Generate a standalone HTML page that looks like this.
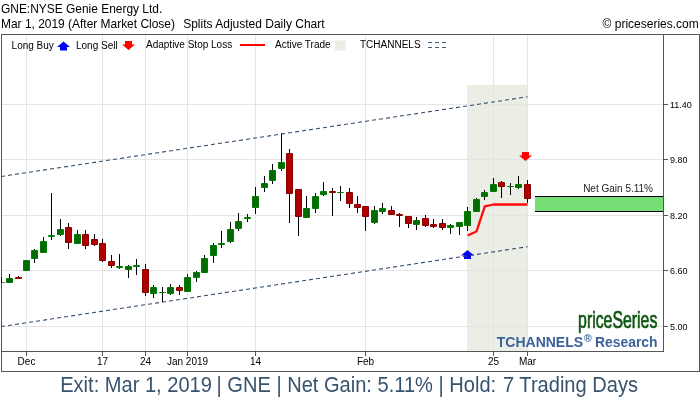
<!DOCTYPE html>
<html><head><meta charset="utf-8"><title>GNE:NYSE Genie Energy Ltd.</title>
<style>
html,body{margin:0;padding:0;background:#fff;}
body{width:700px;height:400px;overflow:hidden;position:relative;font-family:"Liberation Sans",Arial,sans-serif;}
svg{position:absolute;left:0;top:0;display:block;}
text{font-family:"Liberation Sans",Arial,sans-serif;}
</style></head><body>
<svg width="700" height="400" viewBox="0 0 700 400">
<rect x="0" y="0" width="700" height="400" fill="#ffffff"/>

<rect x="467" y="85" width="61" height="266" fill="#ebeee5" shape-rendering="crispEdges"/>
<g shape-rendering="crispEdges" fill="#e5e5e5">
<rect x="26" y="35" width="1" height="316"/>
<rect x="102" y="35" width="1" height="316"/>
<rect x="145" y="35" width="1" height="316"/>
<rect x="187" y="35" width="1" height="316"/>
<rect x="255" y="35" width="1" height="316"/>
<rect x="365" y="35" width="1" height="316"/>
<rect x="493" y="35" width="1" height="316"/>
<rect x="527" y="35" width="1" height="316"/>
<rect x="2" y="104" width="661" height="1"/>
<rect x="2" y="159" width="661" height="1"/>
<rect x="2" y="215" width="661" height="1"/>
<rect x="2" y="270" width="661" height="1"/>
<rect x="2" y="326" width="661" height="1"/>
</g>
<g shape-rendering="crispEdges" fill="#555555">
<rect x="1" y="34" width="699" height="1"/>
<rect x="1" y="34" width="1" height="338"/>
<rect x="699" y="34" width="1" height="338"/>
<rect x="1" y="371" width="699" height="1"/>
<rect x="1" y="351" width="663" height="1"/>
<rect x="663" y="34" width="1" height="318"/>
<rect x="26" y="351" width="1" height="5"/>
<rect x="102" y="351" width="1" height="5"/>
<rect x="145" y="351" width="1" height="5"/>
<rect x="187" y="351" width="1" height="5"/>
<rect x="255" y="351" width="1" height="5"/>
<rect x="365" y="351" width="1" height="5"/>
<rect x="493" y="351" width="1" height="5"/>
<rect x="527" y="351" width="1" height="5"/>
<rect x="663" y="104" width="5" height="1"/>
<rect x="663" y="159" width="5" height="1"/>
<rect x="663" y="215" width="5" height="1"/>
<rect x="663" y="270" width="5" height="1"/>
<rect x="663" y="326" width="5" height="1"/>
</g>
<g shape-rendering="crispEdges" fill="#000">
<rect x="9" y="274" width="1" height="9"/>
<rect x="18" y="276" width="1" height="3"/>
<rect x="26" y="260" width="1" height="11"/>
<rect x="34" y="249" width="1" height="14"/>
<rect x="43" y="237" width="1" height="16"/>
<rect x="51" y="193" width="1" height="47"/>
<rect x="60" y="219" width="1" height="17"/>
<rect x="68" y="223" width="1" height="26"/>
<rect x="77" y="230" width="1" height="14"/>
<rect x="85" y="230" width="1" height="19"/>
<rect x="94" y="234" width="1" height="12"/>
<rect x="102" y="239" width="1" height="23"/>
<rect x="111" y="255" width="1" height="13"/>
<rect x="119" y="254" width="1" height="15"/>
<rect x="128" y="265" width="1" height="13"/>
<rect x="136" y="259" width="1" height="16"/>
<rect x="145" y="264" width="1" height="32"/>
<rect x="153" y="285" width="1" height="13"/>
<rect x="162" y="287" width="1" height="15"/>
<rect x="170" y="284" width="1" height="11"/>
<rect x="179" y="285" width="1" height="10"/>
<rect x="187" y="274" width="1" height="18"/>
<rect x="196" y="271" width="1" height="11"/>
<rect x="204" y="255" width="1" height="18"/>
<rect x="213" y="243" width="1" height="20"/>
<rect x="221" y="231" width="1" height="17"/>
<rect x="230" y="222" width="1" height="21"/>
<rect x="238" y="213" width="1" height="18"/>
<rect x="247" y="214" width="1" height="8"/>
<rect x="255" y="187" width="1" height="27"/>
<rect x="264" y="176" width="1" height="16"/>
<rect x="272" y="164" width="1" height="20"/>
<rect x="281" y="133" width="1" height="38"/>
<rect x="289" y="149" width="1" height="74"/>
<rect x="298" y="189" width="1" height="47"/>
<rect x="306" y="196" width="1" height="22"/>
<rect x="315" y="193" width="1" height="20"/>
<rect x="323" y="182" width="1" height="14"/>
<rect x="332" y="188" width="1" height="28"/>
<rect x="340" y="186" width="1" height="15"/>
<rect x="349" y="188" width="1" height="20"/>
<rect x="357" y="196" width="1" height="17"/>
<rect x="365" y="206" width="1" height="25"/>
<rect x="374" y="206" width="1" height="18"/>
<rect x="382" y="203" width="1" height="11"/>
<rect x="391" y="206" width="1" height="9"/>
<rect x="399" y="213" width="1" height="14"/>
<rect x="408" y="216" width="1" height="12"/>
<rect x="416" y="217" width="1" height="13"/>
<rect x="425" y="215" width="1" height="12"/>
<rect x="433" y="219" width="1" height="9"/>
<rect x="442" y="219" width="1" height="11"/>
<rect x="450" y="224" width="1" height="10"/>
<rect x="459" y="222" width="1" height="13"/>
<rect x="467" y="207" width="1" height="24"/>
<rect x="476" y="198" width="1" height="14"/>
<rect x="484" y="190" width="1" height="10"/>
<rect x="493" y="178" width="1" height="14"/>
<rect x="501" y="181" width="1" height="17"/>
<rect x="510" y="183" width="1" height="12"/>
<rect x="518" y="176" width="1" height="13"/>
<rect x="527" y="180" width="1" height="23"/>
</g>
<g>
<rect x="6" y="278" width="7" height="5" rx="0.9" fill="#007c00"/>
<rect x="7" y="279" width="5" height="3" fill="#006b00"/>
<rect x="15" y="277" width="7" height="2" rx="0.9" fill="#8a0000"/>
<rect x="23" y="260" width="7" height="11" rx="0.9" fill="#007c00"/>
<rect x="24" y="261" width="5" height="9" fill="#006b00"/>
<rect x="31" y="250" width="7" height="9" rx="0.9" fill="#007c00"/>
<rect x="32" y="251" width="5" height="7" fill="#006b00"/>
<rect x="40" y="241" width="7" height="12" rx="0.9" fill="#007c00"/>
<rect x="41" y="242" width="5" height="10" fill="#006b00"/>
<rect x="48" y="235" width="7" height="2" rx="0.9" fill="#007c00"/>
<rect x="57" y="229" width="7" height="6" rx="0.9" fill="#007c00"/>
<rect x="58" y="230" width="5" height="4" fill="#006b00"/>
<rect x="65" y="227" width="7" height="16" rx="0.9" fill="#8a0000"/>
<rect x="66" y="228" width="5" height="14" fill="#ae0000"/>
<rect x="74" y="234" width="7" height="10" rx="0.9" fill="#007c00"/>
<rect x="75" y="235" width="5" height="8" fill="#006b00"/>
<rect x="82" y="234" width="7" height="12" rx="0.9" fill="#8a0000"/>
<rect x="83" y="235" width="5" height="10" fill="#ae0000"/>
<rect x="91" y="239" width="7" height="6" rx="0.9" fill="#8a0000"/>
<rect x="92" y="240" width="5" height="4" fill="#ae0000"/>
<rect x="99" y="243" width="7" height="18" rx="0.9" fill="#8a0000"/>
<rect x="100" y="244" width="5" height="16" fill="#ae0000"/>
<rect x="108" y="261" width="7" height="5" rx="0.9" fill="#8a0000"/>
<rect x="109" y="262" width="5" height="3" fill="#ae0000"/>
<rect x="116" y="266" width="7" height="2" rx="0.9" fill="#007c00"/>
<rect x="125" y="266" width="7" height="4" rx="0.9" fill="#007c00"/>
<rect x="126" y="267" width="5" height="2" fill="#006b00"/>
<rect x="133" y="265" width="7" height="2" rx="0.9" fill="#007c00"/>
<rect x="142" y="269" width="7" height="24" rx="0.9" fill="#8a0000"/>
<rect x="143" y="270" width="5" height="22" fill="#ae0000"/>
<rect x="150" y="287" width="7" height="7" rx="0.9" fill="#007c00"/>
<rect x="151" y="288" width="5" height="5" fill="#006b00"/>
<rect x="159" y="292" width="7" height="1" rx="0.9" fill="#007c00"/>
<rect x="167" y="287" width="7" height="7" rx="0.9" fill="#007c00"/>
<rect x="168" y="288" width="5" height="5" fill="#006b00"/>
<rect x="176" y="287" width="7" height="4" rx="0.9" fill="#8a0000"/>
<rect x="177" y="288" width="5" height="2" fill="#ae0000"/>
<rect x="184" y="277" width="7" height="15" rx="0.9" fill="#007c00"/>
<rect x="185" y="278" width="5" height="13" fill="#006b00"/>
<rect x="193" y="272" width="7" height="6" rx="0.9" fill="#007c00"/>
<rect x="194" y="273" width="5" height="4" fill="#006b00"/>
<rect x="201" y="258" width="7" height="15" rx="0.9" fill="#007c00"/>
<rect x="202" y="259" width="5" height="13" fill="#006b00"/>
<rect x="210" y="245" width="7" height="11" rx="0.9" fill="#007c00"/>
<rect x="211" y="246" width="5" height="9" fill="#006b00"/>
<rect x="218" y="243" width="7" height="2" rx="0.9" fill="#007c00"/>
<rect x="227" y="229" width="7" height="13" rx="0.9" fill="#007c00"/>
<rect x="228" y="230" width="5" height="11" fill="#006b00"/>
<rect x="235" y="221" width="7" height="8" rx="0.9" fill="#007c00"/>
<rect x="236" y="222" width="5" height="6" fill="#006b00"/>
<rect x="244" y="217" width="7" height="2" rx="0.9" fill="#007c00"/>
<rect x="252" y="196" width="7" height="12" rx="0.9" fill="#007c00"/>
<rect x="253" y="197" width="5" height="10" fill="#006b00"/>
<rect x="261" y="183" width="7" height="5" rx="0.9" fill="#007c00"/>
<rect x="262" y="184" width="5" height="3" fill="#006b00"/>
<rect x="269" y="170" width="7" height="11" rx="0.9" fill="#007c00"/>
<rect x="270" y="171" width="5" height="9" fill="#006b00"/>
<rect x="278" y="162" width="7" height="7" rx="0.9" fill="#007c00"/>
<rect x="279" y="163" width="5" height="5" fill="#006b00"/>
<rect x="286" y="153" width="7" height="41" rx="0.9" fill="#8a0000"/>
<rect x="287" y="154" width="5" height="39" fill="#ae0000"/>
<rect x="295" y="189" width="7" height="28" rx="0.9" fill="#8a0000"/>
<rect x="296" y="190" width="5" height="26" fill="#ae0000"/>
<rect x="303" y="208" width="7" height="10" rx="0.9" fill="#007c00"/>
<rect x="304" y="209" width="5" height="8" fill="#006b00"/>
<rect x="312" y="196" width="7" height="13" rx="0.9" fill="#007c00"/>
<rect x="313" y="197" width="5" height="11" fill="#006b00"/>
<rect x="320" y="191" width="7" height="4" rx="0.9" fill="#007c00"/>
<rect x="321" y="192" width="5" height="2" fill="#006b00"/>
<rect x="329" y="191" width="7" height="2" rx="0.9" fill="#8a0000"/>
<rect x="337" y="192" width="7" height="1" rx="0.9" fill="#007c00"/>
<rect x="346" y="192" width="7" height="12" rx="0.9" fill="#8a0000"/>
<rect x="347" y="193" width="5" height="10" fill="#ae0000"/>
<rect x="354" y="204" width="7" height="4" rx="0.9" fill="#8a0000"/>
<rect x="355" y="205" width="5" height="2" fill="#ae0000"/>
<rect x="362" y="206" width="7" height="11" rx="0.9" fill="#8a0000"/>
<rect x="363" y="207" width="5" height="9" fill="#ae0000"/>
<rect x="371" y="210" width="7" height="13" rx="0.9" fill="#007c00"/>
<rect x="372" y="211" width="5" height="11" fill="#006b00"/>
<rect x="379" y="208" width="7" height="4" rx="0.9" fill="#007c00"/>
<rect x="380" y="209" width="5" height="2" fill="#006b00"/>
<rect x="388" y="210" width="7" height="5" rx="0.9" fill="#8a0000"/>
<rect x="389" y="211" width="5" height="3" fill="#ae0000"/>
<rect x="396" y="214" width="7" height="2" rx="0.9" fill="#8a0000"/>
<rect x="405" y="216" width="7" height="8" rx="0.9" fill="#8a0000"/>
<rect x="406" y="217" width="5" height="6" fill="#ae0000"/>
<rect x="413" y="220" width="7" height="5" rx="0.9" fill="#007c00"/>
<rect x="414" y="221" width="5" height="3" fill="#006b00"/>
<rect x="422" y="218" width="7" height="8" rx="0.9" fill="#8a0000"/>
<rect x="423" y="219" width="5" height="6" fill="#ae0000"/>
<rect x="430" y="224" width="7" height="3" rx="0.9" fill="#8a0000"/>
<rect x="431" y="225" width="5" height="1" fill="#ae0000"/>
<rect x="439" y="223" width="7" height="5" rx="0.9" fill="#8a0000"/>
<rect x="440" y="224" width="5" height="3" fill="#ae0000"/>
<rect x="447" y="225" width="7" height="3" rx="0.9" fill="#007c00"/>
<rect x="448" y="226" width="5" height="1" fill="#006b00"/>
<rect x="456" y="222" width="7" height="5" rx="0.9" fill="#007c00"/>
<rect x="457" y="223" width="5" height="3" fill="#006b00"/>
<rect x="464" y="211" width="7" height="15" rx="0.9" fill="#007c00"/>
<rect x="465" y="212" width="5" height="13" fill="#006b00"/>
<rect x="473" y="199" width="7" height="13" rx="0.9" fill="#007c00"/>
<rect x="474" y="200" width="5" height="11" fill="#006b00"/>
<rect x="481" y="192" width="7" height="5" rx="0.9" fill="#007c00"/>
<rect x="482" y="193" width="5" height="3" fill="#006b00"/>
<rect x="490" y="184" width="7" height="8" rx="0.9" fill="#007c00"/>
<rect x="491" y="185" width="5" height="6" fill="#006b00"/>
<rect x="498" y="182" width="7" height="5" rx="0.9" fill="#8a0000"/>
<rect x="499" y="183" width="5" height="3" fill="#ae0000"/>
<rect x="507" y="186" width="7" height="1" rx="0.9" fill="#007c00"/>
<rect x="515" y="184" width="7" height="4" rx="0.9" fill="#007c00"/>
<rect x="516" y="185" width="5" height="2" fill="#006b00"/>
<rect x="524" y="184" width="7" height="15" rx="0.9" fill="#8a0000"/>
<rect x="525" y="185" width="5" height="13" fill="#ae0000"/>
</g>
<g shape-rendering="crispEdges">
<rect x="1" y="277" width="1" height="6" fill="#000"/>
<rect x="2" y="282" width="3" height="1" fill="#777"/>
</g>
<path d="M467.5,250 l6.5,5.5 h-3 v3.5 h-7 v-3.5 h-3 z" fill="#0000ff"/>
<path d="M525.5,161 l6.5,-5.5 h-3 v-3.5 h-7 v3.5 h-3 z" fill="#ff0000"/>
<g stroke="#2f4b67" stroke-width="1.05" stroke-dasharray="4.046,3.034" fill="none">
<line x1="1" y1="176.5" x2="527.5" y2="96.8"/>
<line x1="1" y1="326.6" x2="527.5" y2="246.7"/>
</g>
<polyline points="467.5,235.5 476.5,231.5 484.8,206.4 493.5,204.5 527.5,204.5" fill="none" stroke="#ff0a0a" stroke-width="2.3" stroke-linejoin="round"/>
<g shape-rendering="crispEdges">
<rect x="535" y="196" width="128" height="16" fill="#000"/>
<rect x="535" y="197" width="128" height="14" fill="#77dd77"/>
</g>
<text x="653" y="192" font-size="10" text-anchor="end" fill="#222">Net Gain 5.11%</text>
<text x="670" y="107.7" font-size="9" fill="#000">11.40</text>
<text x="670" y="162.7" font-size="9" fill="#000">9.80</text>
<text x="670" y="218.7" font-size="9" fill="#000">8.20</text>
<text x="670" y="273.7" font-size="9" fill="#000">6.60</text>
<text x="670" y="329.7" font-size="9" fill="#000">5.00</text>
<text x="26.5" y="365" font-size="10" text-anchor="middle" fill="#000">Dec</text>
<text x="102.5" y="365" font-size="10" text-anchor="middle" fill="#000">17</text>
<text x="145.5" y="365" font-size="10" text-anchor="middle" fill="#000">24</text>
<text x="187.5" y="365" font-size="10" text-anchor="middle" fill="#000">Jan 2019</text>
<text x="255.5" y="365" font-size="10" text-anchor="middle" fill="#000">14</text>
<text x="365.5" y="365" font-size="10" text-anchor="middle" fill="#000">Feb</text>
<text x="493.5" y="365" font-size="10" text-anchor="middle" fill="#000">25</text>
<text x="527.5" y="365" font-size="10" text-anchor="middle" fill="#000">Mar</text>
<g font-size="10" fill="#000">
<text x="11.6" y="49">Long Buy</text>
<text x="76" y="49">Long Sell</text>
<text x="146" y="48">Adaptive Stop Loss</text>
<text x="275" y="48">Active Trade</text>
<text x="360" y="48">TCHANNELS</text>
</g>
<path d="M63.5,41.5 l6.5,5.5 h-3 v3.5 h-7 v-3.5 h-3 z" fill="#0000ff"/>
<path d="M128.5,50 l6.5,-5.5 h-3 v-3.5 h-7 v3.5 h-3 z" fill="#ff0000"/>
<rect x="240" y="44" width="25" height="2" fill="#ff0000" shape-rendering="crispEdges"/>
<rect x="335" y="40.5" width="10.5" height="10" fill="#ebeee5"/>
<g stroke="#3f5b77" stroke-width="1" stroke-dasharray="4,3" shape-rendering="crispEdges"><line x1="428" y1="42.5" x2="447" y2="42.5"/><line x1="428" y1="47.5" x2="447" y2="47.5"/></g>
<text x="1" y="13" font-size="12" fill="#000" transform="translate(1,0) scale(0.995,1) translate(-1,0)">GNE:NYSE Genie Energy Ltd.</text>
<text x="1" y="28" font-size="12" fill="#000" transform="translate(1,0) scale(0.996,1) translate(-1,0)">Mar 1, 2019 (After Market Close)</text>
<text x="183.2" y="28" font-size="12" fill="#000">Splits Adjusted Daily Chart</text>
<text x="698.8" y="28" font-size="12" text-anchor="end" fill="#000">© priceseries.com</text>
<g transform="translate(657.3,327.8) scale(0.66,1)"><text x="0" y="0" font-size="24" text-anchor="end" fill="#0c560f" stroke="#0c560f" stroke-width="0.6" vector-effect="non-scaling-stroke">priceSeries</text></g>
<g font-size="14" font-weight="bold" fill="#3c629a">
<text x="583.1" y="347.1" text-anchor="end">TCHANNELS</text>
<text x="583.9" y="341.6" font-size="10.4">®</text>
<text x="657.6" y="347.1" font-size="13.9" text-anchor="end">Research</text>
</g>
<g transform="translate(60.2,391.9) scale(1.004,1.085)"><text x="0" y="0" font-size="20" fill="#38536d">Exit: Mar 1, 2019 <tspan dx="-0.9">| GNE | Net Gain: 5.11% | Hold:</tspan><tspan dx="1.3"> 7 Trading Days</tspan></text></g>
</svg></body></html>
